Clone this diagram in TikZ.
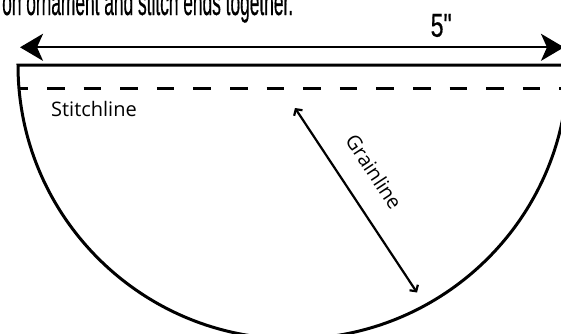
\documentclass[tikz,border=0pt]{standalone}
\usepackage{fontspec}
\usepackage{graphicx}
\setmainfont{Liberation Sans}
\newfontfamily\condfont{Liberation Sans}[FakeBold=0.6]
\newfontfamily\labelfont{Open Sans}
\usetikzlibrary{arrows.meta}
\tikzset{
  outline/.style={line width=3pt, line join=miter},
  stitch/.style={line width=3pt, dash pattern=on 17.5pt off 19.1pt, dash phase=8.6pt},
  dimline/.style={line width=2.3pt, {Stealth[length=23pt,width=27pt,inset=6pt]}-{Stealth[length=23pt,width=27pt,inset=6pt]}},
  grain/.style={line width=2.2pt, {Straight Barb[length=4.5pt,width=10pt]}-{Straight Barb[length=4.5pt,width=10pt]}},
  condtext/.style={inner sep=0pt, font=\condfont\fontsize{33}{33}\selectfont},
  toptext/.style={inner sep=0pt, font=\condfont\fontsize{37}{37}\selectfont},
  plabel/.style={inner sep=0pt, font=\labelfont\fontsize{20}{24}\selectfont},
}
\begin{document}
\begin{tikzpicture}[x=1pt,y=1pt]
\useasboundingbox (0,0) rectangle (561,333);
\fill[white] (0,0) rectangle (561,333);
\clip (0,0) rectangle (561,333);
% coordinates
\coordinate (tl) at (18,268);
\coordinate (tr) at (568,268);
\coordinate (sl) at (19,244.5);
\coordinate (sr) at (567,244.5);
\coordinate (dl) at (20,285.7);
\coordinate (dr) at (564,285.7);
\coordinate (g1) at (295,225);
\coordinate (g2) at (417,40.5);
% pattern piece
\draw[outline] (tl) -- (tr) arc[start angle=0, end angle=-180, x radius=275, y radius=274] -- cycle;
\draw[stitch] (sl) -- (sr);
% dimension
\draw[dimline] (dl) -- (dr);
\node[condtext, anchor=base] (five) at (441.2,296.3) {\resizebox{21pt}{\height}{5\symbol{34}}};
\node[toptext, anchor=base west] (top) at (2,318) {\resizebox{291pt}{\height}{on ornament and stitch ends together.}};
% labels
\node[plabel, anchor=base west] (stl) at (51,216.3) {Stitchline};
\draw[grain] (g1) -- node[plabel, pos=0.4376, sloped, above=22pt] (gl) {Grainline} (g2);
\end{tikzpicture}
\end{document}
